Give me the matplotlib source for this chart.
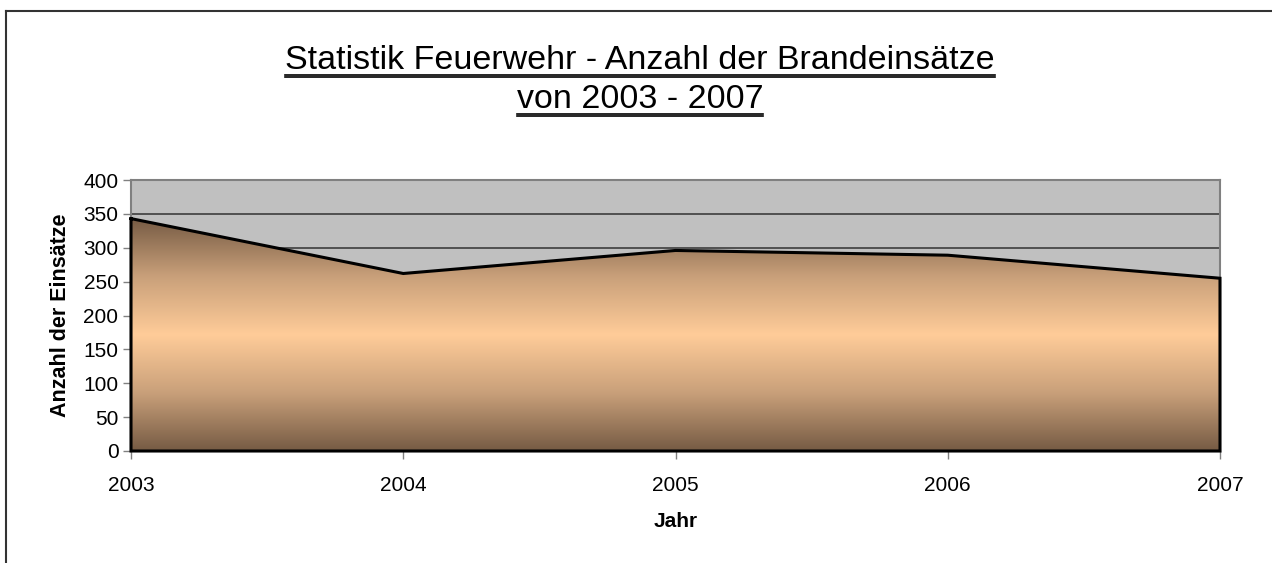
import matplotlib
matplotlib.use("Agg")
import matplotlib.pyplot as plt
import numpy as np
from matplotlib.colors import LinearSegmentedColormap
from matplotlib.lines import Line2D

plt.rcParams['font.family'] = ['Liberation Sans', 'DejaVu Sans']

years = [2003, 2004, 2005, 2006, 2007]
einsaetze = [343, 262, 296, 289, 255]
y_ticks = [0, 50, 100, 150, 200, 250, 300, 350, 400]
title_lines = ["Statistik Feuerwehr - Anzahl der Brandeinsätze", "von 2003 - 2007"]

W, H = 1272, 563
fig = plt.figure(figsize=(W / 100, H / 100), dpi=100)
ax = fig.add_axes([131 / W, 112 / H, 1089 / W, 271 / H])
ax.set_facecolor("#c0c0c0")

# area with vertical gradient, clipped to the polygon
poly = ax.fill_between(years, 0, einsaetze, facecolor="none", edgecolor="none", zorder=2)
cmap = LinearSegmentedColormap.from_list("brand", ["#765b44", "#c9a07a", "#ffcc99", "#c9a07a", "#765b44"])
grad = np.linspace(0, 1, 256).reshape(-1, 1)
img = ax.imshow(grad, cmap=cmap, aspect="auto", origin="lower",
                extent=[years[0], years[-1], 0, max(einsaetze)], zorder=2, interpolation="bilinear")
img.set_clip_path(poly.get_paths()[0], transform=ax.transData)
ax.plot(years + [years[-1], years[0], years[0]], einsaetze + [0, 0, einsaetze[0]],
        color="black", lw=2.2, zorder=3, solid_joinstyle="miter", clip_on=False)

ax.set_xlim(years[0], years[-1])
ax.set_ylim(0, 400)
ax.set_xticks(years)
ax.set_yticks(y_ticks)
ax.yaxis.grid(True, color="#333333", lw=1.1)
ax.set_axisbelow(True)
for s in ax.spines.values():
    s.set_color("#808080")
    s.set_linewidth(1.5)
ax.tick_params(axis="both", colors="#808080", labelcolor="black", labelsize=15,
               length=6, width=1)
ax.tick_params(axis="x", pad=12)
ax.tick_params(axis="y", pad=3)

ax.set_xlabel("Jahr", fontsize=15, fontweight="bold", labelpad=12)
ax.set_ylabel("Anzahl der Einsätze", fontsize=15.5, fontweight="bold", labelpad=9)

# title lines (baseline positions in px from top) with double underline
fig.canvas.draw()
renderer = fig.canvas.get_renderer()
for line, base in zip(title_lines, [69, 108]):
    t = fig.text(0.503, 1 - base / H, line, ha="center", va="baseline", fontsize=24.5)
    bb = t.get_window_extent(renderer)
    for off in (5.5, 8):
        yl = 1 - (base + off) / H
        fig.add_artist(Line2D([bb.x0 / W, bb.x1 / W], [yl, yl], color="black", lw=1.2))

# outer chart frame (cut at right and bottom)
fig.add_artist(Line2D([6 / W, 1], [1 - 11 / H, 1 - 11 / H], color="#333333", lw=1.5))
fig.add_artist(Line2D([6 / W, 6 / W], [0, 1 - 11 / H], color="#333333", lw=1.5))

fig.savefig("out.png", dpi=100)
